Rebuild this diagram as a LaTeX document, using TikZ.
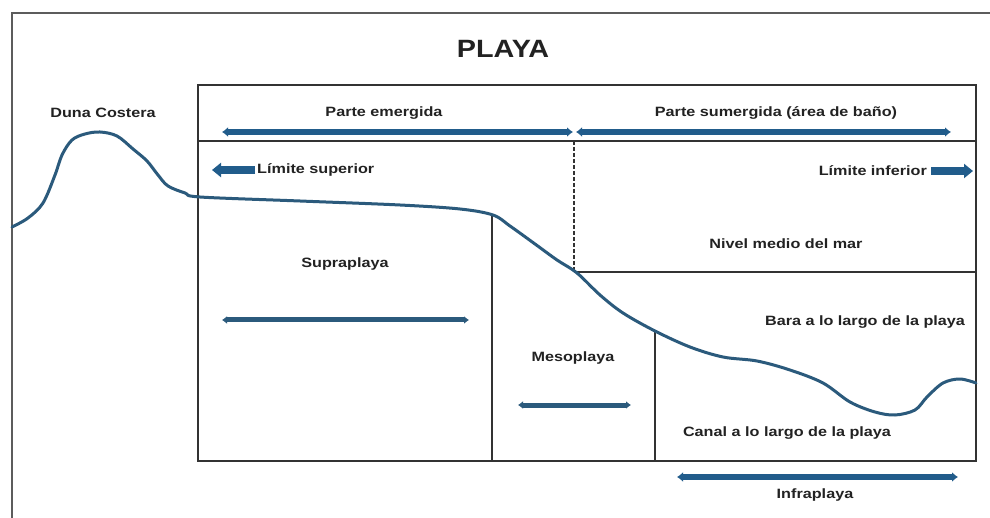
\documentclass[tikz,border=0pt]{standalone}
\usepackage{fontspec}
\setmainfont{Liberation Sans}
\newfontfamily\labfont[FakeStretch=1.2]{Liberation Sans}
\newfontfamily\titlefont[FakeStretch=1.15]{Liberation Sans}
\usetikzlibrary{arrows.meta}
\definecolor{seablue}{HTML}{215C8B}
\definecolor{shore}{HTML}{2B5A7C}
\definecolor{frame}{HTML}{333333}
\definecolor{ink}{HTML}{222222}
\tikzset{
  lab/.style={font=\labfont\bfseries\fontsize{13.5}{15}\selectfont, text=ink, inner sep=0pt},
  ttl/.style={font=\titlefont\bfseries\fontsize{25}{28}\selectfont, text=ink, inner sep=0pt},
  boxline/.style={draw=frame, line width=2.2pt},
  span/.style={draw=seablue, line width=6.5pt, {Latex[length=6pt,width=10pt]}-{Latex[length=6pt,width=10pt]}},
  thinspan/.style={draw=shore, line width=5pt, {Latex[length=5pt,width=8pt]}-{Latex[length=5pt,width=8pt]}},
  limitarrow/.style={draw=seablue, line width=8pt, -{Triangle[length=9pt,width=14pt]}},
  coast/.style={draw=shore, line width=3pt, line join=round, line cap=round}
}
\begin{document}
\begin{tikzpicture}[x=1pt,y=-1pt]
  \useasboundingbox (0,0) rectangle (990,518);
  \fill[white] (0,0) rectangle (990,518);

  % outer frame (left and top edges)
  \draw[draw=frame!80, line width=2pt] (12,518) -- (12,13) -- (990,13);

  % title
  \node[ttl] (title) at (503,49) {PLAYA};

  % zone table
  \draw[boxline] (198,85) rectangle (976,461);
  \draw[boxline] (198,141) -- (976,141);
  \draw[boxline] (574,272) -- (976,272);
  \draw[draw=frame, line width=1.6pt, dashed, dash pattern=on 4pt off 2pt] (574,141) -- (574,272);
  \draw[boxline] (492,215) -- (492,461);
  \draw[boxline] (655,331) -- (655,461);

  % beach profile
  \draw[coast] plot[smooth, tension=0.55] coordinates {
    (12,227) (28,218) (43,203) (55,175) (62,155) (72,140) (85,134) (100,132)
    (117,136) (133,149) (147,161) (158,175) (168,186) (185,193) (200,197)
    (300,201) (400,205) (460,209) (493,215) (510,226) (535,244) (557,260)
    (577,273) (600,295) (623,313) (655,331) (690,347) (723,357) (757,361)
    (790,370) (823,383) (850,402) (875,412) (895,415) (915,410) (927,397)
    (943,383) (960,379) (976,383)};

  % labels
  \node[lab] (duna) at (103,113) {Duna Costera};
  \node[lab] (emerg) at (384,113) {Parte emergida};
  \node[lab] (sumerg) at (776,113) {Parte sumergida (área de baño)};
  \node[lab, anchor=west] (limsup) at (257,170) {Límite superior};
  \node[lab, anchor=east] (liminf) at (927,171) {Límite inferior};
  \node[lab] (nivel) at (786,244) {Nivel medio del mar};
  \node[lab] (supra) at (345,264) {Supraplaya};
  \node[lab] (meso) at (573,358) {Mesoplaya};
  \node[lab] (barra) at (865,322) {Bara a lo largo de la playa};
  \node[lab] (canal) at (787,433) {Canal a lo largo de la playa};
  \node[lab] (infra) at (815,495) {Infraplaya};

  % span arrows
  \coordinate (emA) at (222,132); \coordinate (emB) at (573,132);
  \coordinate (suA) at (576,132); \coordinate (suB) at (951,132);
  \coordinate (spA) at (222,320); \coordinate (spB) at (469,320);
  \coordinate (meA) at (518,405); \coordinate (meB) at (631,405);
  \coordinate (inA) at (677,477); \coordinate (inB) at (958,477);
  \draw[span] (emA) -- (emB);
  \draw[span] (suA) -- (suB);
  \draw[thinspan] (spA) -- (spB);
  \draw[thinspan] (meA) -- (meB);
  \draw[span] (inA) -- (inB);

  % limit arrows
  \coordinate (lsTip) at (212,170);
  \coordinate (liTip) at (973,171);
  \draw[limitarrow] (limsup.west) ++(-2,0) -- (lsTip);
  \draw[limitarrow] (liminf.east) ++(4,0) -- (liTip);
\end{tikzpicture}
\end{document}
